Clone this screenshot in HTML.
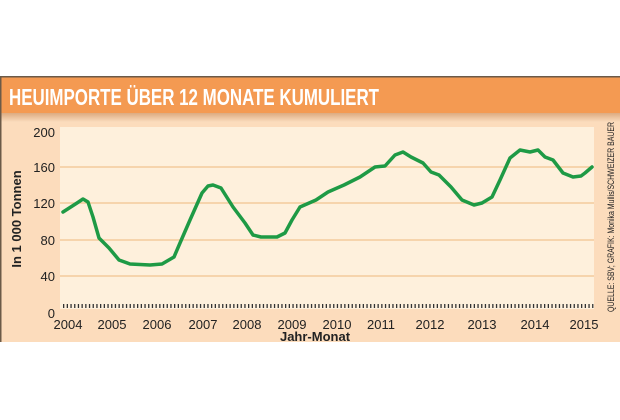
<!DOCTYPE html>
<html><head><meta charset="utf-8"><style>
body{margin:0;width:620px;height:420px;background:#fff;overflow:hidden;font-family:"Liberation Sans Narrow","Liberation Sans",sans-serif}
</style></head><body>
<svg width="620" height="420" viewBox="0 0 620 420" xmlns="http://www.w3.org/2000/svg" style="position:absolute;left:0;top:0">
<defs><linearGradient id="sh" x1="0" y1="0" x2="0" y2="1"><stop offset="0" stop-color="#d9a57a"/><stop offset="1" stop-color="#fbdcbd"/></linearGradient></defs>
<rect x="0" y="77" width="620" height="265" fill="#fcdcbc"/>
<rect x="0" y="112" width="620" height="10" fill="url(#sh)"/>
<rect x="0" y="77" width="620" height="36" fill="#f49a52"/>
<rect x="0" y="76" width="620" height="1.5" fill="#6b5a48"/>
<rect x="0" y="77" width="1.5" height="265" fill="#6b5a48"/>
<text x="9" y="105" font-family="Liberation Sans Narrow, Liberation Sans, sans-serif" font-weight="bold" font-size="23" fill="#fff" textLength="370" lengthAdjust="spacingAndGlyphs">HEUIMPORTE ÜBER 12 MONATE KUMULIERT</text>
<rect x="60" y="127" width="534" height="182" fill="#fef0dc"/>
<g stroke="#f2c38e" stroke-width="1.2">
<line x1="60" y1="167" x2="594" y2="167"/><line x1="60" y1="203" x2="594" y2="203"/>
<line x1="60" y1="240" x2="594" y2="240"/><line x1="60" y1="276" x2="594" y2="276"/>
</g>
<line x1="63" y1="306" x2="594" y2="306" stroke="#333" stroke-width="4" stroke-dasharray="1.3 2.4"/>
<g font-family="Liberation Sans Narrow, Liberation Sans, sans-serif" font-size="13" fill="#222" text-anchor="end">
<text x="55" y="137">200</text><text x="55" y="172">160</text><text x="55" y="208">120</text>
<text x="55" y="245">80</text><text x="55" y="281">40</text><text x="55" y="318">0</text>
</g>
<g font-family="Liberation Sans Narrow, Liberation Sans, sans-serif" font-size="13" fill="#222" text-anchor="middle">
<text x="68" y="329">2004</text><text x="112" y="329">2005</text><text x="157" y="329">2006</text>
<text x="203" y="329">2007</text><text x="247" y="329">2008</text><text x="292" y="329">2009</text>
<text x="337" y="329">2010</text><text x="381" y="329">2011</text><text x="430" y="329">2012</text>
<text x="482" y="329">2013</text><text x="535" y="329">2014</text><text x="584" y="329">2015</text>
<text x="315" y="341" font-weight="bold">Jahr-Monat</text>
<text transform="translate(21,219) rotate(-90)" font-weight="bold">In 1 000 Tonnen</text>
<text transform="translate(614,217) rotate(-90)" font-size="9.5" textLength="190" lengthAdjust="spacingAndGlyphs">QUELLE: SBV; GRAFIK: Monika Mullis/SCHWEIZER BAUER</text>
</g>
<polyline fill="none" stroke="#1e9a45" stroke-width="3.5" stroke-linejoin="round" stroke-linecap="round" points="63,212 77,203 83,199 88,202 93,217 99,238 109,248 119,260 130,264 150,265 162,264 174,257 180,243 190,220 202,193 208,186 213,185 221,188 233,207 245,223 253,235 261,237 277,237 285,233 292,220 300,207 316,200 328,192 344,185 360,177 375,167 385,166 395,155 403,152 411,157 423,163 431,172 439,175 451,187 462,200 474,205 482,203 492,197 500,180 510,158 520,150 530,152 538,150 545,157 553,160 563,173 573,177 581,176 585,173 592,167"/>
</svg>
</body></html>
